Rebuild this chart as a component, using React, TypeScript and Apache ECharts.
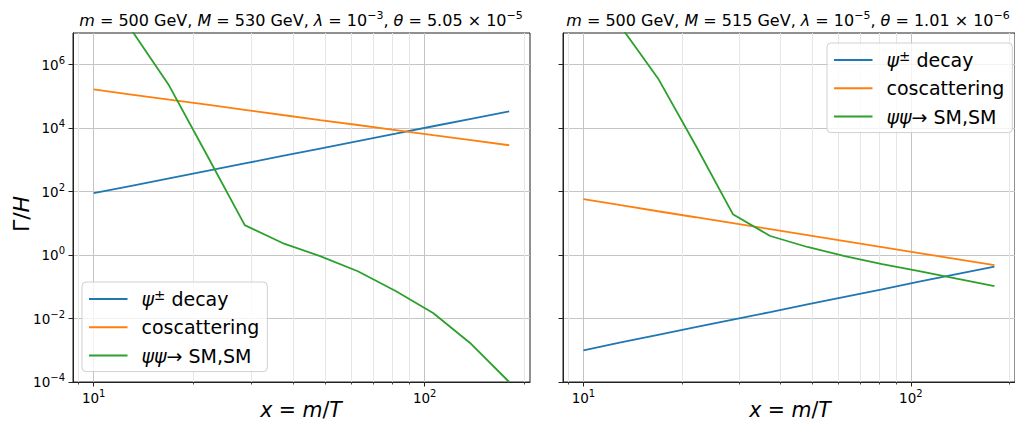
import React, { useEffect, useRef } from "react";
import * as echarts from "echarts";

const FONT = "DejaVu Sans";

const seriesNames = ["ψ± decay", "coscattering", "ψψ→ SM,SM"];
const colors = ["#1f77b4", "#ff7f0e", "#2ca02c"];

const xValues = [10, 13.0, 16.9, 22.0, 28.6, 37.2, 48.3, 62.8, 81.7, 106, 138, 180];

const leftDecay = [89, 153, 263, 451, 773, 1330, 2280, 3910, 6710, 11500, 19800, 33900];
const leftCoscat = [166000, 115000, 79000, 55000, 38000, 26000, 18000, 12600, 8700, 6000, 4200, 2900];
const leftAnnih = [4e8, 1.25e7, 2.2e5, 1400, 8.8, 2.4, 0.93, 0.31, 0.074, 0.015, 1.6e-3, 1.0e-4];

const rightDecay = [1.0e-3, 1.77e-3, 3.08e-3, 5.33e-3, 9.25e-3, 0.016, 0.0278, 0.0482, 0.0836, 0.145, 0.251, 0.435];
const rightCoscat = [58, 37.3, 24.1, 15.6, 10.1, 6.56, 4.25, 2.75, 1.78, 1.16, 0.75, 0.48];
const rightAnnih = [3e8, 1.6e7, 3.7e5, 2900, 19.5, 4.0, 1.8, 0.93, 0.52, 0.31, 0.18, 0.106];

const xMajorTicks = [10, 100];
const xMinorTicks = [9, 20, 30, 40, 50, 60, 70, 80, 90, 200];
const yMajorTicks = [1e-4, 1e-2, 1, 1e2, 1e4, 1e6];
const xMin = 8.66;
const xMax = 208;
const yMin = 1e-4;
const yMax = 1e7;

const titleLeft = "{i|m} = 500 GeV, {i|M} = 530 GeV, {i|λ} = 10{s|−3}, {i|θ} = 5.05 × 10{s|−5}";
const titleRight = "{i|m} = 500 GeV, {i|M} = 515 GeV, {i|λ} = 10{s|−5}, {i|θ} = 1.01 × 10{s|−6}";

const legendRich: Record<string, string> = {
  "ψ± decay": "{i|ψ}{s|±} decay",
  coscattering: "coscattering",
  "ψψ→ SM,SM": "{i|ψψ}→ SM,SM",
};

const pairs = (ys: number[]) => xValues.map((x, i) => [x, ys[i]]);

const powLabel = (v: number) => {
  const e = Math.round(Math.log10(v));
  const s = e < 0 ? "−" + String(-e) : String(e);
  return "{b|10}{s|" + s + "}";
};

const tickRich = {
  b: { fontSize: 13.5, fontFamily: FONT, color: "#000", lineHeight: 19 },
  s: { fontSize: 10, fontFamily: FONT, color: "#000", lineHeight: 10, verticalAlign: "top" },
};

const AX = "#222";

function makeXAxes(gridIndex: number) {
  return [
    {
      type: "log",
      gridIndex,
      position: "bottom",
      min: xMin,
      max: xMax,
      axisLine: { show: true, onZero: false, lineStyle: { color: AX, width: 1 } },
      axisTick: { show: true, length: 4.5, customValues: xMajorTicks, lineStyle: { color: AX, width: 1 } },
      axisLabel: { show: true, customValues: xMajorTicks, formatter: powLabel, margin: 6, rich: tickRich },
      splitLine: { show: true, lineStyle: { color: "#c4c4c4", width: 1 } },
    },
    {
      type: "log",
      gridIndex,
      position: "bottom",
      min: xMin,
      max: xMax,
      axisLine: { show: false, onZero: false },
      axisTick: { show: true, length: 2.5, customValues: xMinorTicks, lineStyle: { color: AX, width: 0.8 } },
      axisLabel: { show: false },
      splitLine: { show: true, lineStyle: { color: "#e6e6e6", width: 1 } },
    },
  ];
}

function makeYAxis(gridIndex: number, showLabels: boolean) {
  return {
    type: "log",
    gridIndex,
    position: "left",
    min: yMin,
    max: yMax,
    axisLine: { show: true, onZero: false, lineStyle: { color: AX, width: 1 } },
    axisTick: { show: true, length: 4.5, customValues: yMajorTicks, lineStyle: { color: AX, width: 1 } },
    axisLabel: { show: showLabels, customValues: yMajorTicks, formatter: powLabel, margin: 8, rich: tickRich },
    splitLine: { show: true, lineStyle: { color: "#c4c4c4", width: 1 } },
  };
}

function makeSeries(xAxisIndex: number, yAxisIndex: number, data: number[][]) {
  return data.map((ys, i) => ({
    type: "line",
    name: seriesNames[i],
    xAxisIndex,
    yAxisIndex,
    data: pairs(ys as number[]),
    showSymbol: false,
    symbol: "none",
    clip: true,
    lineStyle: { color: colors[i], width: 1.8 },
    itemStyle: { color: colors[i] },
    emphasis: { disabled: true },
  }));
}

function makeLegend(left: number, top: number) {
  return {
    data: seriesNames,
    orient: "vertical",
    left,
    top,
    icon: "rect",
    itemWidth: 38.5,
    itemHeight: 2,
    itemGap: 6.3,
    padding: [6, 8, 5, 7],
    backgroundColor: "rgba(255,255,255,0.8)",
    borderColor: "#d0d0d0",
    borderWidth: 1,
    borderRadius: 4,
    selectedMode: false,
    formatter: (name: string) => legendRich[name],
    textStyle: {
      fontSize: 19,
      fontFamily: FONT,
      color: "#000",
      lineHeight: 22,
      padding: [0, 0, 0, 9],
      rich: {
        i: { fontSize: 19, fontFamily: FONT, fontStyle: "italic", color: "#000", lineHeight: 22 },
        s: { fontSize: 13.5, fontFamily: FONT, color: "#000", lineHeight: 12, verticalAlign: "top" },
      },
    },
  };
}

const gRich = (size: number, supSize: number) => ({
  i: { fontSize: size, fontFamily: FONT, fontStyle: "italic", fill: "#000", lineHeight: size + 4 },
  s: { fontSize: supSize, fontFamily: FONT, fill: "#000", lineHeight: supSize, verticalAlign: "top" },
});

function gText(x: number, y: number, text: string, size: number, supSize: number, rotation = 0) {
  return {
    type: "text",
    x,
    y,
    rotation,
    style: {
      text,
      fontSize: size,
      fontFamily: FONT,
      fill: "#000",
      lineHeight: size + 4,
      align: "center",
      verticalAlign: "middle",
      rich: gRich(size, supSize),
    },
  };
}

export default function App() {
  const ref = useRef<HTMLDivElement>(null);
  useEffect(() => {
    const chart = echarts.init(ref.current!, null, { renderer: "svg" });
    const option: any = {
      animation: false,
      backgroundColor: "#fff",
      grid: [
        { left: 73, top: 33, width: 457, height: 349, show: true, borderColor: AX, borderWidth: 1, containLabel: false },
        { left: 563, top: 33, width: 457, height: 349, show: true, borderColor: AX, borderWidth: 1, containLabel: false },
      ],
      xAxis: [...makeXAxes(0), ...makeXAxes(1)],
      yAxis: [makeYAxis(0, true), makeYAxis(1, false)],
      legend: [makeLegend(82, 282), makeLegend(827, 43)],
      series: [
        ...makeSeries(0, 0, [leftDecay, leftCoscat, leftAnnih]),
        ...makeSeries(2, 1, [rightDecay, rightCoscat, rightAnnih]),
      ],
      graphic: [
        gText(301, 20, titleLeft, 16, 11),
        gText(788, 20, titleRight, 16, 11),
        gText(301, 410, "{i|x} = {i|m}/{i|T}", 20.5, 14),
        gText(790, 410, "{i|x} = {i|m}/{i|T}", 20.5, 14),
        gText(21, 214, "Γ/{i|H}", 22, 15, Math.PI / 2),
      ],
    };
    chart.setOption(option);
    return () => chart.dispose();
  }, []);
  return (
    <div
      ref={ref}
      style={{ position: "fixed", left: 0, top: 0, width: 1015, height: 428, background: "#fff" }}
    />
  );
}
